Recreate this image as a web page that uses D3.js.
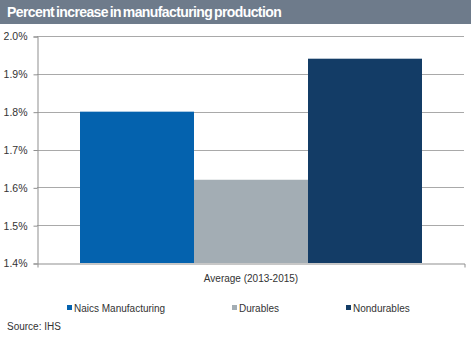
<!DOCTYPE html>
<html>
<head>
<meta charset="utf-8">
<script src="https://cdn.jsdelivr.net/npm/d3@7"></script>
<style>
  body { margin: 0; background: #fff; }
  text { font-family: "Liberation Sans", Arial, sans-serif; }
</style>
</head>
<body>
<svg></svg>
<script>
// Average growth by sector, 2013-2015
var category = 'Average (2013-2015)';
var series = ['Naics Manufacturing', 'Durables', 'Nondurables'];
var values = [1.80, 1.62, 1.94];
var colors = ['#0462ae', '#a3adb4', '#133c66'];
var yTicks = [1.4, 1.5, 1.6, 1.7, 1.8, 1.9, 2.0];

var svgWidth = 471, svgHeight = 339;
var plotLeft = 37, plotRight = 464, plotTop = 36, plotBottom = 263;

var svg = d3.select('svg')
    .attr('width', svgWidth)
    .attr('height', svgHeight);

// header band
svg.append('rect')
    .attr('width', svgWidth)
    .attr('height', 24)
    .attr('fill', '#6e7b8b');

svg.append('text')
    .attr('x', 7)
    .attr('y', 17)
    .attr('fill', '#fff')
    .attr('font-size', 14)
    .attr('font-weight', 'bold')
    .attr('letter-spacing', -0.6)
    .attr('word-spacing', -1.5)
    .text('Percent increase in manufacturing production');

var yScale = d3.scaleLinear()
    .domain([1.4, 2.0])
    .range([plotBottom, plotTop]);

var xScale = d3.scaleBand()
    .domain([category])
    .range([plotLeft, plotRight]);

var barScale = d3.scaleBand()
    .domain(series)
    .range([80, 422]);

// gridlines
svg.append('g').selectAll('line')
    .data(yTicks.slice(1))
    .enter()
    .append('line')
    .attr('x1', plotLeft)
    .attr('x2', plotRight)
    .attr('y1', function(d) { return Math.round(yScale(d)) + 0.5; })
    .attr('y2', function(d) { return Math.round(yScale(d)) + 0.5; })
    .attr('stroke', '#a9a9a9');

// bars
svg.append('g').selectAll('rect')
    .data(values)
    .enter()
    .append('rect')
    .attr('x', function(d, i) { return barScale(series[i]); })
    .attr('width', barScale.bandwidth())
    .attr('y', function(d) { return yScale(d); })
    .attr('height', function(d) { return plotBottom - yScale(d); })
    .attr('fill', function(d, i) { return colors[i]; });

// y axis
var yAxis = svg.append('g')
    .attr('transform', 'translate(' + (plotLeft + 0.5) + ',0.5)')
    .call(d3.axisLeft(yScale)
        .tickValues(yTicks)
        .tickSize(4)
        .tickPadding(6)
        .tickFormat(function(d) { return d.toFixed(1) + '%'; }));
yAxis.select('.domain').attr('stroke', '#8f8f8f');
yAxis.selectAll('line').attr('stroke', '#8f8f8f');
yAxis.selectAll('text')
    .attr('font-size', 10.5)
    .attr('fill', '#333')
    .attr('font-family', '"Liberation Sans", Arial, sans-serif');

// x axis
var xAxis = svg.append('g')
    .attr('transform', 'translate(0.5,' + (plotBottom + 0.5) + ')')
    .call(d3.axisBottom(xScale).tickSize(0).tickPadding(11).tickSizeOuter(4));
xAxis.select('.domain').attr('stroke', '#8f8f8f');
xAxis.selectAll('text')
    .attr('font-size', 10)
    .attr('fill', '#333')
    .attr('font-family', '"Liberation Sans", Arial, sans-serif');

// legend
var legendX = [67, 232, 346];
var legend = svg.append('g').selectAll('g')
    .data(series)
    .enter()
    .append('g')
    .attr('transform', function(d, i) { return 'translate(' + legendX[i] + ',305)'; });

legend.append('rect')
    .attr('y', 0)
    .attr('width', 5)
    .attr('height', 5)
    .attr('fill', function(d, i) { return colors[i]; });

legend.append('text')
    .attr('x', 7)
    .attr('y', 7)
    .attr('font-size', 10)
    .attr('fill', '#333')
    .text(function(d) { return d; });

svg.append('text')
    .attr('x', 7)
    .attr('y', 330)
    .attr('font-size', 10)
    .attr('fill', '#333')
    .text('Source: IHS');
</script>
</body>
</html>
